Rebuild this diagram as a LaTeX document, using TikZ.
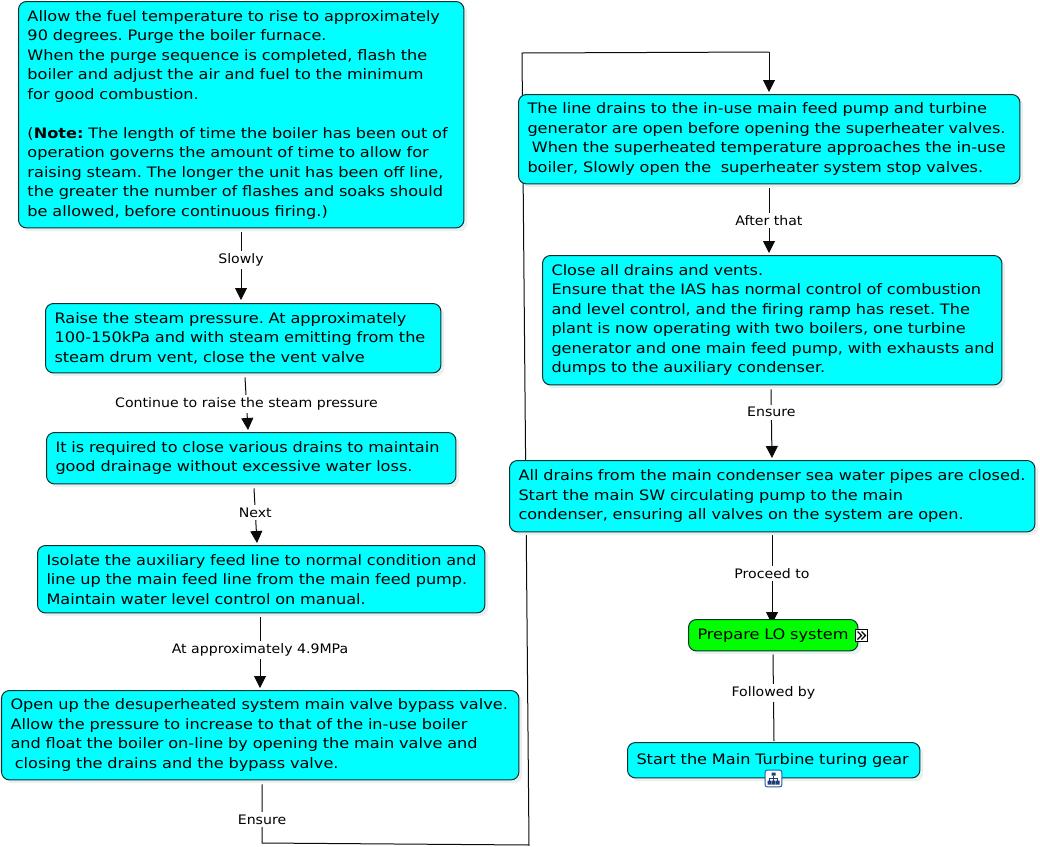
\documentclass[tikz,border=0pt]{standalone}
\usepackage{fontspec}
\setmainfont[FakeStretch=1.12]{DejaVu Sans}
\newfontfamily\labfont[FakeStretch=1.08]{DejaVu Sans}
\usetikzlibrary{arrows.meta,calc,shadows,backgrounds}
\definecolor{boxcyan}{RGB}{0,255,255}
\definecolor{boxgreen}{RGB}{0,255,0}
\definecolor{boxedge}{RGB}{5,50,50}
\definecolor{shade}{RGB}{232,240,240}
\definecolor{lnk}{RGB}{10,10,10}
\definecolor{iconblue}{RGB}{40,90,170}
\tikzset{
  x=.75pt,y=-.75pt,
  flowbox/.style 2 args={draw=boxedge,line width=.75pt,fill=boxcyan,rounded corners=6pt,
    anchor=north west,minimum width={(#1-.6)*.75pt},minimum height={(#2-.6)*.75pt},
    text width={(#1-18.6)*.75pt},inner xsep=6.75pt,inner ysep=0pt,align=left,text=black,
    font=\fontsize{10.8}{14.625}\selectfont\frenchspacing,
    drop shadow={shadow xshift=2.5pt,shadow yshift=-2.5pt,fill=shade,opacity=1}},
  link/.style={line width=.75pt,draw=lnk},
  flow/.style={link,-{Triangle[length=9pt,width=9pt]}},
  lab/.style={fill=white,inner xsep=1pt,inner ysep=2pt,text=black,font=\labfont\fontsize{9.8}{12}\selectfont},
}
\begin{document}
\begin{tikzpicture}
\useasboundingbox (0,0) rectangle (1040,847);
\node[flowbox={446}{227}] (n1) at (18,1) {Allow the fuel temperature to rise to approximately\\90 degrees. Purge the boiler furnace.\\When the purge sequence is completed, flash the\\boiler and adjust the air and fuel to the minimum\\for good combustion.\\[14.625pt]\mbox{(\textbf{Note:} The length of time the boiler has been out of}\\operation governs the amount of time to allow for\\raising steam. The longer the unit has been off line,\\the greater the number of flashes and soaks should\\be allowed, before continuous firing.)};
\node[flowbox={396}{70}] (n2) at (45,303) {Raise the steam pressure. At approximately\\\mbox{100-150kPa and with steam emitting from the}\\steam drum vent, close the vent valve};
\node[flowbox={410}{52}] (n3) at (46,432) {\mbox{It is required to close various drains to maintain}\\good drainage without excessive water loss.};
\node[flowbox={448}{68}] (n4) at (37,545) {\mbox{Isolate the auxiliary feed line to normal condition and}\\\mbox{line up the main feed line from the main feed pump.}\\Maintain water level control on manual.};
\node[flowbox={518}{90}] (n5) at (1,690) {\mbox{Open up the desuperheated system main valve bypass valve.}\\Allow the pressure to increase to that of the in-use boiler\\and float the boiler on-line by opening the main valve and\\\hspace*{.3em}closing the drains and the bypass valve.};
\node[flowbox={502}{90}] (n6) at (518,94) {The line drains to the in-use main feed pump and turbine\\\mbox{generator are open before opening the superheater valves.}\\\mbox{\hspace*{.3em}When the superheated temperature approaches the in-use}\\boiler, Slowly open the\ \ superheater system stop valves.};
\node[flowbox={460}{130}] (n7) at (542,255) {Close all drains and vents.\\\mbox{Ensure that the IAS has normal control of combustion}\\and level control, and the firing ramp has reset. The\\plant is now operating with two boilers, one turbine\\\mbox{generator and one main feed pump, with exhausts and}\\dumps to the auxiliary condenser.};
\node[flowbox={526}{72}] (n8) at (509,460) {\mbox{All drains from the main condenser sea water pipes are closed.}\\Start the main SW circulating pump to the main\\condenser, ensuring all valves on the system are open.};
\node[flowbox={170}{32},fill=boxgreen] (n9) at (688,619) {Prepare LO system};
\node[flowbox={293}{36}] (n10) at (627,742) {Start the Main Turbine turing gear};
% expand icon
\node[draw=black,fill=white,line width=.75pt,minimum size=8.6pt,inner sep=0pt] (more) at (861.5,635.5) {};
\draw[line width=.9pt] ($(more)+(-4,-4)$) -- ($(more)+(0,0)$) -- ($(more)+(-4,4)$) ($(more)+(0,-4)$) -- ($(more)+(4,0)$) -- ($(more)+(0,4)$);
% submap icon
\node[draw=iconblue,fill=white,line width=.75pt,rounded corners=1.5pt,minimum size=12.5pt,inner sep=0pt] (sub) at (773.5,778.5) {};
\draw[iconblue!70!black,line width=.7pt] ($(sub)+(0,-3)$) -- ($(sub)+(0,3)$) ($(sub)+(-4,3)$) -- ($(sub)+(-4,0)$) -- ($(sub)+(4,0)$) -- ($(sub)+(4,3)$);
\fill[iconblue!70!black] ($(sub)+(-2,-6)$) rectangle ($(sub)+(2,-3)$) ($(sub)+(-6,2)$) rectangle ($(sub)+(-2,6)$) ($(sub)+(-1.5,2)$) rectangle ($(sub)+(1.5,6)$) ($(sub)+(2,2)$) rectangle ($(sub)+(6,6)$);
\begin{scope}[on background layer]
\coordinate (b1) at (262,843);
\coordinate (b2) at (529,845);
\coordinate (b3) at (522,53);
\coordinate (b4) at (769,52);
\draw[flow] ($(n1.south west)+(223,4)$) -- node[lab,pos=.41] (l1) {Slowly} ($(n2.north west)+(196,-3)$);
\draw[flow] ($(n2.south west)+(200,4)$) -- node[lab,pos=.5] (l2) {Continue to raise the steam pressure} ($(n3.north west)+(202,-2)$);
\draw[flow] ($(n3.south west)+(208,4)$) -- node[lab,pos=.44] (l3) {Next} ($(n4.north west)+(220,-2)$);
\draw[flow] ($(n4.south west)+(223,4)$) -- node[lab,pos=.46] (l4) {At approximately 4.9MPa} ($(n5.north west)+(259,-2)$);
\draw[link] ($(n5.south west)+(261,4)$) -- node[lab,pos=.6] (l5) {Ensure} (b1) -- (b2) -- (b3) -- (b4);
\draw[flow] (b4) -- ($(n6.north west)+(251,-2)$);
\draw[flow] ($(n6.south west)+(251,4)$) -- node[lab] (l6) {After that} ($(n7.north west)+(227,-2)$);
\draw[flow] ($(n7.south west)+(229,4)$) -- node[lab,pos=.33] (l7) {Ensure} ($(n8.north west)+(263,-2)$);
\draw[flow] ($(n8.south west)+(263,3)$) -- node[lab,pos=.43] (l8) {Proceed to} ($(n9.north west)+(84,5)$);
\draw[link] ($(n9.south west)+(85,3)$) -- node[lab,pos=.44] (l9) {Followed by} ($(n10.north west)+(147,-1)$);
\end{scope}
\end{tikzpicture}
\end{document}
